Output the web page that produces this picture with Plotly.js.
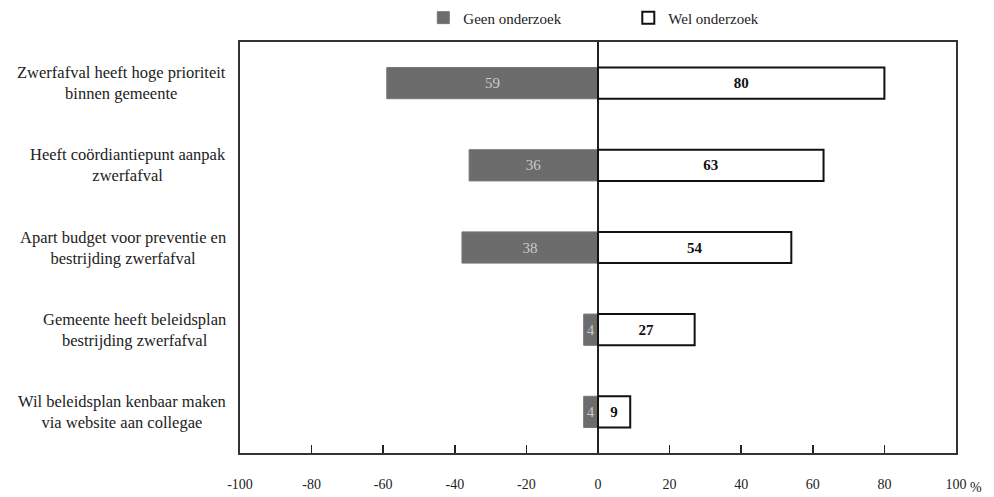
<!DOCTYPE html>
<html>
<head>
<meta charset="utf-8">
<script src="https://cdn.plot.ly/plotly-3.0.1.min.js"></script>
<style>html,body{margin:0;padding:0;background:#fff;}#chart{width:994px;height:497px;}</style>
</head>
<body>
<div id="chart"></div>
<script>
const categories = [
  "Zwerfafval heeft hoge prioriteit<br>binnen gemeente",
  "Heeft coördiantiepunt aanpak<br>zwerfafval",
  "Apart budget voor preventie en<br>bestrijding zwerfafval",
  "Gemeente heeft beleidsplan<br>bestrijding zwerfafval",
  "Wil beleidsplan kenbaar maken<br>via website aan collegae"
];
const geenOnderzoek = [59, 36, 38, 4, 4];
const welOnderzoek = [80, 63, 54, 27, 9];
const tickValues = [-100, -80, -60, -40, -20, 0, 20, 40, 60, 80, 100];
const tickLabels = ["-100", "-80", "-60", "-40", "-20", "0", "20", "40", "60", "80", "100"];

const FONT = "Liberation Serif";

const traces = [
  {
    type: "bar", orientation: "h", name: "Geen onderzoek",
    y: categories, x: geenOnderzoek.map(v => -v),
    text: geenOnderzoek.map(String), textposition: "inside", insidetextanchor: "middle",
    textfont: {family: FONT, size: 15, color: "#c9c9c9"},
    marker: {color: "#6c6c6c", line: {color: "#777", width: 1}},
    width: 0.38, hoverinfo: "skip"
  },
  {
    type: "bar", orientation: "h", name: "Wel onderzoek",
    y: categories, x: welOnderzoek,
    text: welOnderzoek.map(v => "<b>" + v + "</b>"), textposition: "inside", insidetextanchor: "middle",
    textfont: {family: FONT, size: 15, color: "#111"},
    marker: {color: "#ffffff", line: {color: "#111", width: 2}},
    width: 0.38, hoverinfo: "skip"
  }
];

const annotations = categories.map(c => ({
  xref: "paper", yref: "y", x: -0.017, y: c, xanchor: "right", yanchor: "middle",
  text: c, showarrow: false, align: "center",
  font: {family: FONT, size: 16.5, color: "#222"}
}));
annotations.push({
  xref: "paper", yref: "paper", x: 1.017, y: -0.083, xanchor: "left", yanchor: "middle",
  text: "%", showarrow: false, font: {family: FONT, size: 14, color: "#222"}
});

const layout = {
  width: 994, height: 497,
  margin: {l: 240, r: 38, t: 42, b: 44, autoexpand: false},
  paper_bgcolor: "#fff", plot_bgcolor: "#fff",
  barmode: "overlay",
  showlegend: true,
  legend: {
    orientation: "h", xref: "paper", x: 0.256, yref: "container", y: 0.964,
    xanchor: "left", yanchor: "middle",
    bgcolor: "rgba(0,0,0,0)",
    font: {family: FONT, size: 15, color: "#222"}, entrywidth: 160, itemwidth: 30,
    traceorder: "normal"
  },
  uniformtext: {mode: "show", minsize: 13},
  xaxis: {
    range: [-100, 100], tickvals: tickValues, ticktext: tickLabels,
    ticks: "inside", ticklen: 8, tickcolor: "#222", tickwidth: 1.5,
    showgrid: false, zeroline: true, zerolinecolor: "#222", zerolinewidth: 1.5,
    showline: true, linecolor: "#333", linewidth: 2, mirror: true,
    tickfont: {family: FONT, size: 14, color: "#222"}, ticklabelstandoff: 17,
    fixedrange: true
  },
  yaxis: {
    type: "category", categoryorder: "array", categoryarray: categories,
    range: [4.5, -0.5], showticklabels: false, ticks: "",
    showgrid: false, zeroline: false,
    showline: true, linecolor: "#333", linewidth: 2, mirror: true,
    fixedrange: true
  },
  annotations: annotations
};

Plotly.newPlot("chart", traces, layout, {displayModeBar: false, staticPlot: true});
</script>
</body>
</html>
